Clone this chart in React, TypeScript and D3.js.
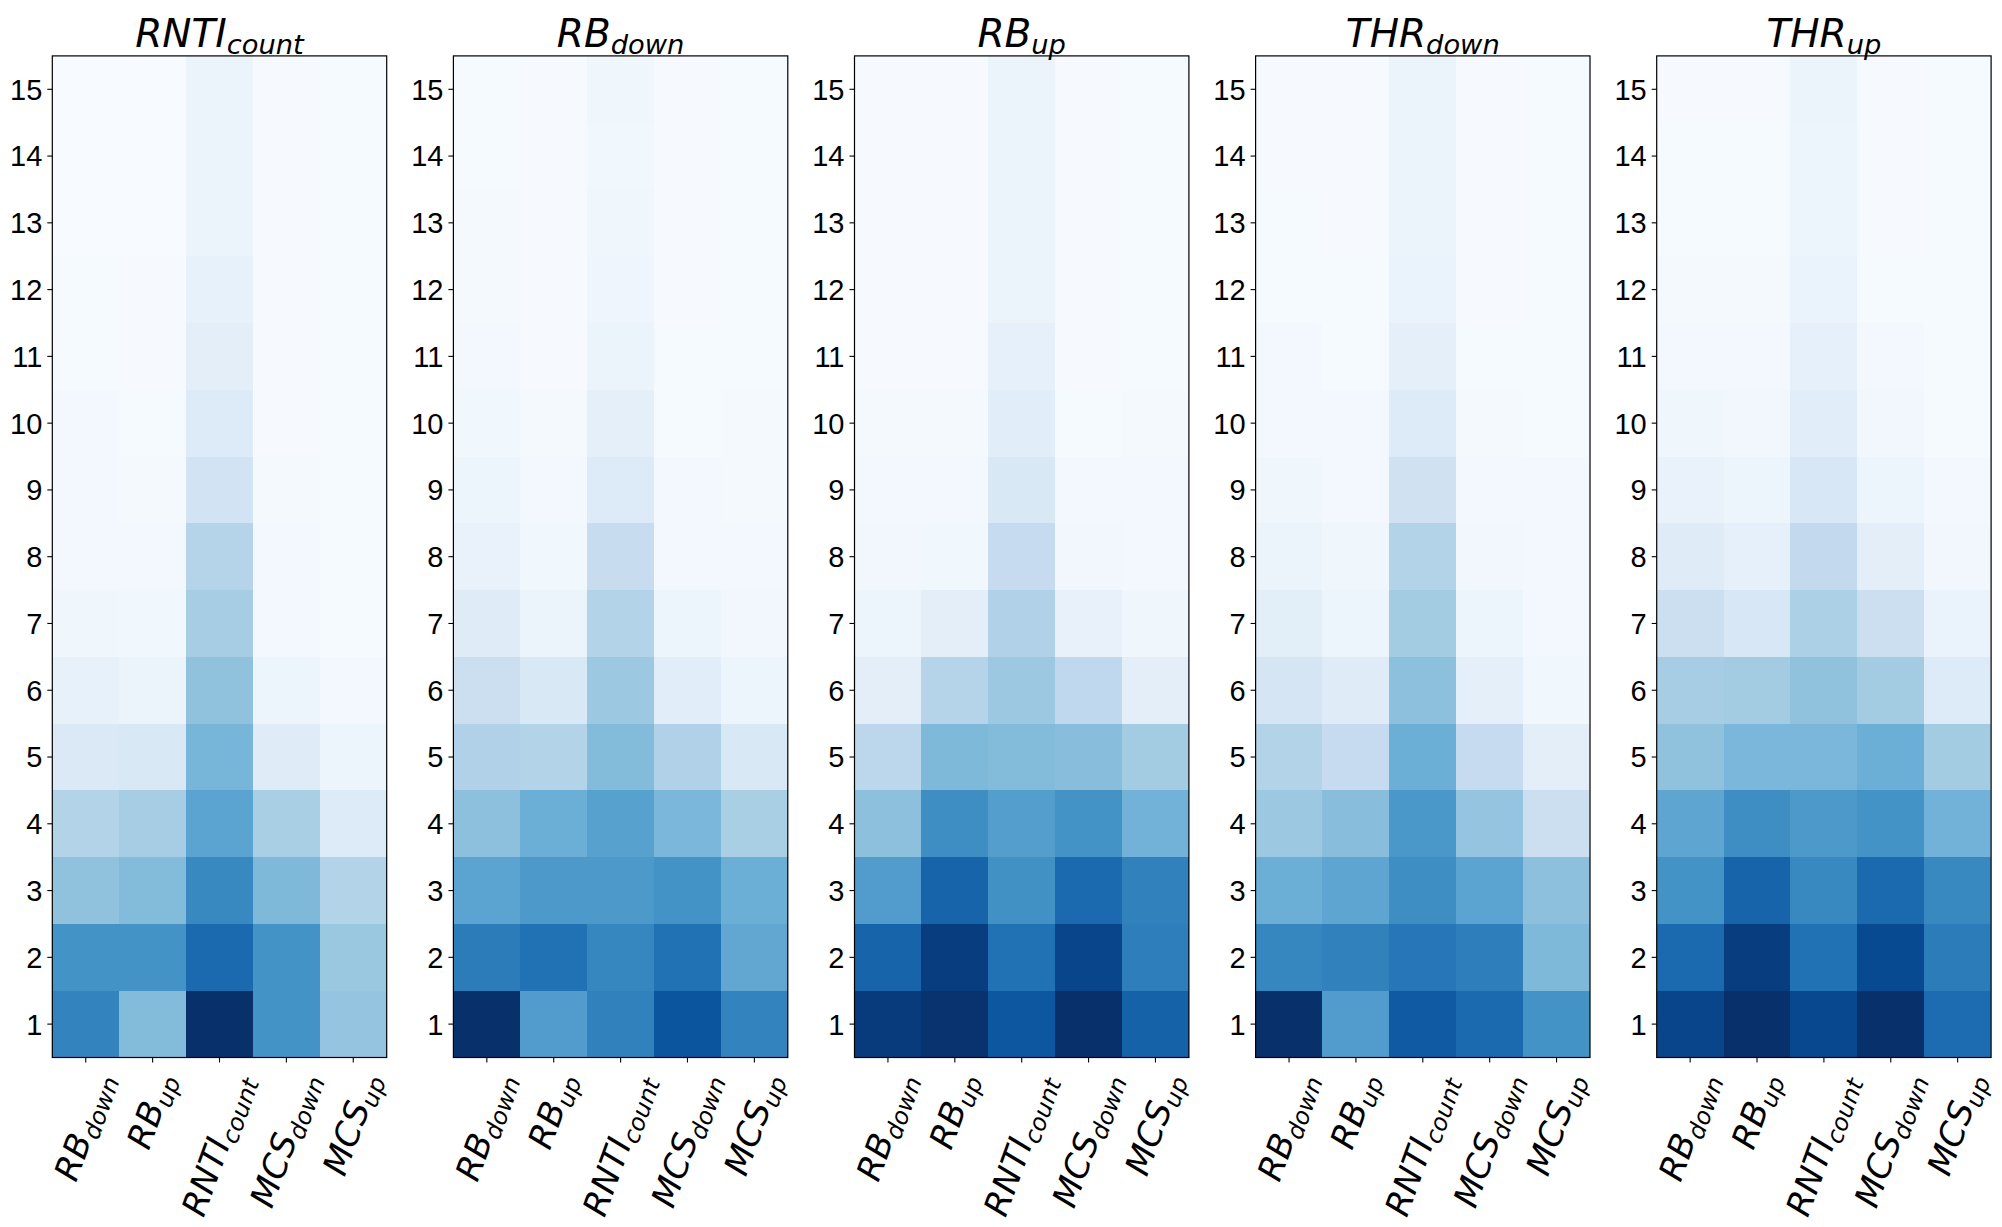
import { useEffect, useRef } from "react";
import * as d3 from "d3";

// Blues colormap stops (same as matplotlib "Blues")
const bluesStops = ["#f7fbff", "#deebf7", "#c6dbef", "#9ecae1", "#6baed6", "#4292c6", "#2171b5", "#08519c", "#08306b"];

const rowTicks = [1, 2, 3, 4, 5, 6, 7, 8, 9, 10, 11, 12, 13, 14, 15];

// x categories: [base, subscript]
const columns = [
  ["RB", "down"],
  ["RB", "up"],
  ["RNTI", "count"],
  ["MCS", "down"],
  ["MCS", "up"],
];

const titles = [
  ["RNTI", "count"],
  ["RB", "down"],
  ["RB", "up"],
  ["THR", "down"],
  ["THR", "up"],
];

// each matrix: rows 15 (top) -> 1 (bottom), columns as above, normalised 0..1
const rntiCount = [
  [0.0, 0.0, 0.06, 0.005, 0.01],
  [0.0, 0.0, 0.06, 0.005, 0.01],
  [0.0, 0.0, 0.06, 0.005, 0.01],
  [0.01, 0.005, 0.08, 0.005, 0.01],
  [0.01, 0.005, 0.1, 0.005, 0.01],
  [0.02, 0.01, 0.13, 0.005, 0.01],
  [0.02, 0.015, 0.19, 0.015, 0.01],
  [0.025, 0.02, 0.3, 0.02, 0.01],
  [0.04, 0.035, 0.35, 0.025, 0.01],
  [0.08, 0.06, 0.41, 0.05, 0.02],
  [0.14, 0.15, 0.47, 0.12, 0.05],
  [0.31, 0.35, 0.55, 0.34, 0.13],
  [0.41, 0.44, 0.66, 0.45, 0.31],
  [0.62, 0.62, 0.78, 0.62, 0.385],
  [0.68, 0.44, 1.0, 0.62, 0.4],
];

const rbDown = [
  [0.01, 0.005, 0.04, 0.005, 0.01],
  [0.01, 0.005, 0.035, 0.005, 0.01],
  [0.015, 0.005, 0.04, 0.005, 0.01],
  [0.015, 0.005, 0.045, 0.005, 0.01],
  [0.025, 0.005, 0.06, 0.01, 0.01],
  [0.035, 0.015, 0.09, 0.01, 0.015],
  [0.05, 0.02, 0.13, 0.02, 0.015],
  [0.07, 0.035, 0.24, 0.025, 0.02],
  [0.12, 0.06, 0.31, 0.05, 0.03],
  [0.22, 0.15, 0.38, 0.11, 0.05],
  [0.32, 0.31, 0.44, 0.32, 0.15],
  [0.42, 0.5, 0.56, 0.46, 0.34],
  [0.55, 0.59, 0.59, 0.62, 0.5],
  [0.71, 0.75, 0.67, 0.75, 0.53],
  [1.0, 0.58, 0.69, 0.86, 0.68],
];

const rbUp = [
  [0.005, 0.005, 0.06, 0.005, 0.01],
  [0.005, 0.005, 0.06, 0.005, 0.01],
  [0.005, 0.005, 0.06, 0.005, 0.01],
  [0.005, 0.005, 0.06, 0.005, 0.01],
  [0.005, 0.005, 0.085, 0.005, 0.01],
  [0.015, 0.015, 0.11, 0.01, 0.015],
  [0.02, 0.025, 0.15, 0.02, 0.02],
  [0.03, 0.035, 0.25, 0.03, 0.025],
  [0.05, 0.1, 0.32, 0.075, 0.04],
  [0.1, 0.3, 0.38, 0.27, 0.1],
  [0.28, 0.45, 0.44, 0.43, 0.36],
  [0.42, 0.64, 0.57, 0.62, 0.48],
  [0.58, 0.8, 0.63, 0.78, 0.69],
  [0.8, 0.95, 0.75, 0.92, 0.7],
  [0.96, 0.99, 0.85, 1.0, 0.81],
];

const thrDown = [
  [0.005, 0.005, 0.06, 0.005, 0.01],
  [0.005, 0.005, 0.055, 0.005, 0.01],
  [0.01, 0.005, 0.055, 0.005, 0.01],
  [0.01, 0.01, 0.065, 0.005, 0.01],
  [0.02, 0.01, 0.09, 0.01, 0.01],
  [0.025, 0.02, 0.13, 0.015, 0.01],
  [0.04, 0.025, 0.2, 0.025, 0.02],
  [0.055, 0.04, 0.31, 0.03, 0.02],
  [0.105, 0.05, 0.36, 0.05, 0.025],
  [0.17, 0.12, 0.42, 0.09, 0.035],
  [0.31, 0.25, 0.5, 0.25, 0.1],
  [0.38, 0.43, 0.6, 0.4, 0.22],
  [0.5, 0.54, 0.64, 0.55, 0.42],
  [0.67, 0.69, 0.73, 0.7, 0.45],
  [1.0, 0.58, 0.84, 0.78, 0.62],
];

const thrUp = [
  [0.005, 0.005, 0.055, 0.005, 0.01],
  [0.01, 0.01, 0.05, 0.005, 0.01],
  [0.01, 0.01, 0.05, 0.005, 0.01],
  [0.015, 0.015, 0.065, 0.01, 0.01],
  [0.025, 0.02, 0.085, 0.02, 0.01],
  [0.04, 0.03, 0.11, 0.03, 0.01],
  [0.07, 0.05, 0.16, 0.05, 0.025],
  [0.12, 0.085, 0.26, 0.1, 0.03],
  [0.22, 0.16, 0.33, 0.22, 0.065],
  [0.35, 0.36, 0.41, 0.36, 0.13],
  [0.41, 0.46, 0.46, 0.5, 0.36],
  [0.54, 0.64, 0.59, 0.62, 0.48],
  [0.62, 0.8, 0.66, 0.78, 0.66],
  [0.78, 0.95, 0.75, 0.9, 0.71],
  [0.92, 1.0, 0.91, 1.0, 0.77],
];

const panels = [rntiCount, rbDown, rbUp, thrDown, thrUp];

const W = 2002;
const H = 1227;
const plotTop = 55.9;
const plotW = 334.4;
const plotH = 1001.6;
const mathFont = "'DejaVu Sans', sans-serif";
const tickFont = "'Liberation Sans', Arial, sans-serif";
const labelSize = 34;
const titleSize = 39;
const tickSize = 29;
const rot = 70;

function addMath(text: any, base: string, sub: string, size: number) {
  text.append("tspan").text(base);
  text
    .append("tspan")
    .attr("font-size", size * 0.7)
    .attr("dy", size * 0.18)
    .text(sub);
}

export default function App() {
  const svgRef = useRef(null);

  useEffect(() => {
    const svg = d3.select(svgRef.current);
    svg.selectAll("*").remove();

    const color = d3
      .scaleLinear<string>()
      .domain(bluesStops.map((_, i) => i / (bluesStops.length - 1)))
      .range(bluesStops)
      .interpolate(d3.interpolateRgb)
      .clamp(true);

    const panelX = d3.scaleLinear().domain([0, 4]).range([52.3, 1656.7]);
    const x = d3
      .scaleBand()
      .domain(columns.map((c) => c.join("_")))
      .range([0, plotW]);
    const y = d3.scaleLinear().domain([0.5, 15.5]).range([plotH, 0]);

    panels.forEach((matrix, pi) => {
      const g = svg.append("g").attr("transform", `translate(${panelX(pi)},${plotTop})`);

      // cells
      matrix.forEach((row, ri) => {
        const rowVal = rowTicks[rowTicks.length - 1 - ri];
        row.forEach((v, ci) => {
          g.append("rect")
            .attr("x", x(columns[ci].join("_"))!)
            .attr("y", y(rowVal + 0.5))
            .attr("width", x.bandwidth())
            .attr("height", y(rowVal - 0.5) - y(rowVal + 0.5))
            .attr("fill", color(v))
            .attr("shape-rendering", "crispEdges");
        });
      });

      // frame
      g.append("rect")
        .attr("width", plotW)
        .attr("height", plotH)
        .attr("fill", "none")
        .attr("stroke", "#000")
        .attr("stroke-width", 1.2);

      // y ticks
      rowTicks.forEach((t) => {
        g.append("line")
          .attr("x1", -5)
          .attr("x2", 0)
          .attr("y1", y(t))
          .attr("y2", y(t))
          .attr("stroke", "#000")
          .attr("stroke-width", 1.1);
        g.append("text")
          .attr("x", -10)
          .attr("y", y(t))
          .attr("dy", "0.36em")
          .attr("text-anchor", "end")
          .attr("font-family", tickFont)
          .attr("font-size", tickSize)
          .attr("fill", "#000")
          .text(t);
      });

      // x ticks + rotated math labels
      const rad = (rot * Math.PI) / 180;
      columns.forEach((c) => {
        const cx = x(c.join("_"))! + x.bandwidth() / 2;
        g.append("line")
          .attr("x1", cx)
          .attr("x2", cx)
          .attr("y1", plotH)
          .attr("y2", plotH + 5)
          .attr("stroke", "#000")
          .attr("stroke-width", 1.1);
        const t = g
          .append("text")
          .attr("font-family", mathFont)
          .attr("font-style", "italic")
          .attr("font-size", labelSize)
          .attr("fill", "#000");
        addMath(t, c[0], c[1], labelSize);
        const bb = (t.node() as SVGTextElement).getBBox();
        const rh = bb.width * Math.sin(rad) + bb.height * Math.cos(rad);
        const top = plotH + 10;
        t.attr(
          "transform",
          `translate(${cx},${top + rh / 2}) rotate(${-rot}) translate(${-(bb.x + bb.width / 2)},${-(bb.y + bb.height / 2)})`
        );
      });

      // title
      const title = g
        .append("text")
        .attr("x", plotW / 2)
        .attr("y", -9)
        .attr("text-anchor", "middle")
        .attr("font-family", mathFont)
        .attr("font-style", "italic")
        .attr("font-size", titleSize)
        .attr("fill", "#000");
      addMath(title, titles[pi][0], titles[pi][1], titleSize);
    });
  }, []);

  return (
    <svg
      ref={svgRef}
      width={W}
      height={H}
      style={{ position: "absolute", left: 0, top: 0, background: "#fff" }}
    />
  );
}
